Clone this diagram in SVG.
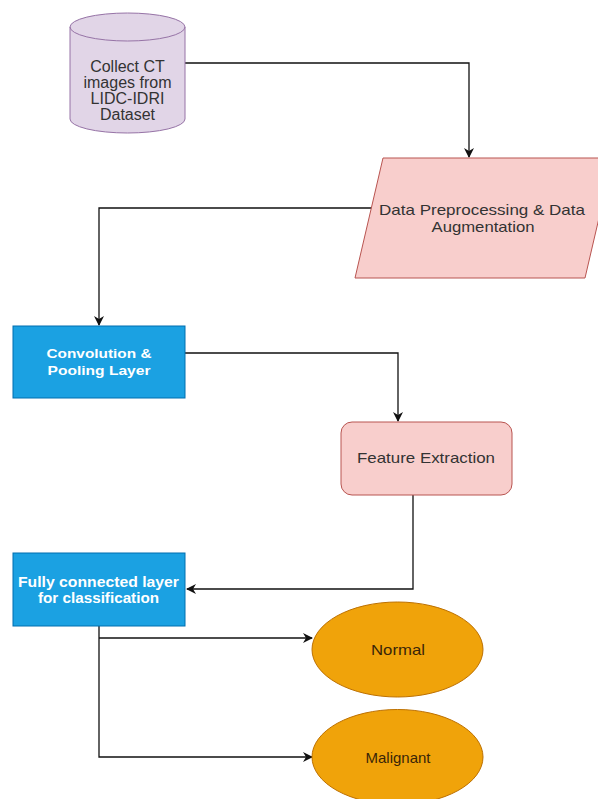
<svg xmlns="http://www.w3.org/2000/svg" width="598" height="799" viewBox="0 0 598 799">
<defs>
<style>
text{font-family:"Liberation Sans",Arial,sans-serif;text-anchor:middle}
.dark{fill:#333333}
.white{fill:#ffffff;font-weight:bold}
.edge{fill:none;stroke:#111111;stroke-width:1.3}
.pink{fill:#f8cecc;stroke:#b85450;stroke-width:1}
.blue{fill:#1ba1e2;stroke:#006eaf;stroke-width:1}
.orange{fill:#f0a30a;stroke:#bd7000;stroke-width:1}
</style>
<marker id="arr" viewBox="0 0 10 10" refX="9" refY="5" markerWidth="10" markerHeight="10" markerUnits="userSpaceOnUse" orient="auto">
<path d="M0,0 L10,5 L0,10 L3,5 Z" fill="#111111"/>
</marker>
</defs>
<rect width="598" height="799" fill="#ffffff"/>
<g id="connectors">
<path class="edge" d="M185,63 H469 V157" marker-end="url(#arr)"/>
<path class="edge" d="M379,208 H99 V325" marker-end="url(#arr)"/>
<path class="edge" d="M185,353 H398 V421" marker-end="url(#arr)"/>
<path class="edge" d="M413,495 V589 H187" marker-end="url(#arr)"/>
<path class="edge" d="M99,626 V757 H312" marker-end="url(#arr)"/>
<path class="edge" d="M99,638 H312" marker-end="url(#arr)"/>
</g>
<g id="collect">
<path d="M70,27 A57.5,14 0 0 1 185,27 V119 A57.5,14 0 0 1 70,119 Z" fill="#e1d5e7" stroke="#9673a6" stroke-width="1"/>
<path d="M70,27 A57.5,14 0 0 0 185,27" fill="none" stroke="#9673a6" stroke-width="1"/>
<text class="dark" x="127.5" y="72" font-size="16">Collect CT</text>
<text class="dark" x="127.5" y="88" font-size="16">images from</text>
<text class="dark" x="127.5" y="104" font-size="16">LIDC-IDRI</text>
<text class="dark" x="127.5" y="120" font-size="16">Dataset</text>
</g>
<g id="preprocess">
<polygon class="pink" points="383,158 613,158 585,278 355,278"/>
<text class="dark" x="482" y="215" font-size="15" textLength="206" lengthAdjust="spacingAndGlyphs">Data Preprocessing &amp; Data</text>
<text class="dark" x="483" y="232" font-size="15" textLength="103" lengthAdjust="spacingAndGlyphs">Augmentation</text>
</g>
<g id="conv">
<rect class="blue" x="13" y="326" width="172" height="72"/>
<text class="white" x="99" y="358" font-size="13" textLength="105" lengthAdjust="spacingAndGlyphs">Convolution &amp;</text>
<text class="white" x="99" y="375" font-size="13" textLength="103" lengthAdjust="spacingAndGlyphs">Pooling Layer</text>
</g>
<g id="feature">
<rect class="pink" x="341" y="422" width="171" height="73" rx="11" ry="11"/>
<text class="dark" x="426" y="463" font-size="15" textLength="138" lengthAdjust="spacingAndGlyphs">Feature Extraction</text>
</g>
<g id="fully">
<rect class="blue" x="13" y="553" width="172" height="73"/>
<text class="white" x="98.5" y="587" font-size="15" textLength="161" lengthAdjust="spacingAndGlyphs">Fully connected layer</text>
<text class="white" x="98.5" y="603" font-size="15" textLength="121" lengthAdjust="spacingAndGlyphs">for classification</text>
</g>
<g id="normal">
<ellipse class="orange" cx="397.5" cy="649.5" rx="85.5" ry="47.5"/>
<text x="398" y="655" font-size="15" fill="#3a2608" textLength="54" lengthAdjust="spacingAndGlyphs">Normal</text>
</g>
<g id="malignant">
<ellipse class="orange" cx="397.5" cy="757" rx="85.5" ry="47.5"/>
<text x="398" y="763" font-size="15" fill="#3a2608" textLength="65" lengthAdjust="spacingAndGlyphs">Malignant</text>
</g>
</svg>
